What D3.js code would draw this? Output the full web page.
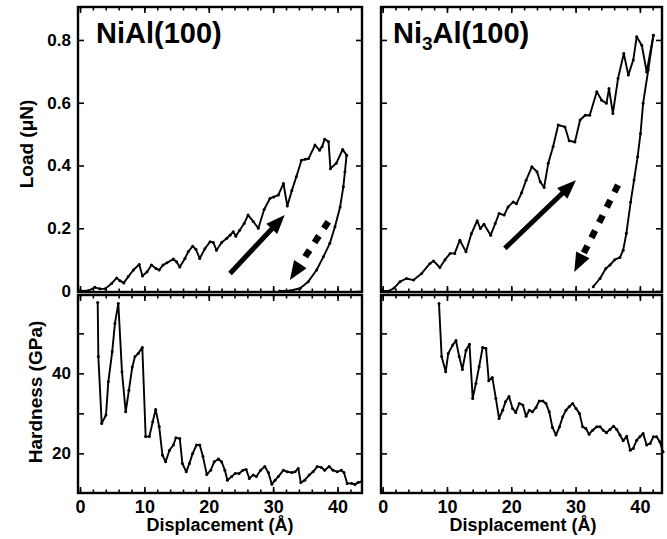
<!DOCTYPE html>
<html>
<head>
<meta charset="utf-8">
<script src="https://cdn.jsdelivr.net/npm/d3@7"></script>
<style>
  body { margin: 0; background: #fff; }
  text { font-family: "Liberation Sans", Arial, sans-serif; font-weight: bold; fill: #000; }
</style>
</head>
<body>
<script>
// Load-displacement curves, [displacement (Å), load (μN)]
const niAlLoading = [[0,0],[1.3,0.001],[2.3,0.012],[3.1,0.007],[3.9,0.007],[4.9,0.024],[5.7,0.042],[6.2,0.033],[6.8,0.026],[7.5,0.046],[8.3,0.067],[9.2,0.085],[9.7,0.048],[10.4,0.061],[11.1,0.083],[11.8,0.072],[12.3,0.067],[12.9,0.083],[13.5,0.09],[14.5,0.102],[15.0,0.093],[15.5,0.077],[16.3,0.104],[16.8,0.125],[17.5,0.143],[18.0,0.133],[18.6,0.104],[19.4,0.135],[20.2,0.157],[20.7,0.155],[21.2,0.13],[22.0,0.155],[22.8,0.168],[23.3,0.178],[23.8,0.189],[24.2,0.175],[24.8,0.194],[25.5,0.215],[26.1,0.242],[26.9,0.222],[27.7,0.2],[28.6,0.26],[29.5,0.295],[30.1,0.3],[30.8,0.306],[31.6,0.343],[32.2,0.271],[32.9,0.32],[33.6,0.364],[34.4,0.417],[35.0,0.42],[35.5,0.422],[36.5,0.465],[37.2,0.449],[37.6,0.46],[38.0,0.484],[38.6,0.476],[38.9,0.39],[39.8,0.407],[40.8,0.451],[41.4,0.433]];
const niAlUnloading = [[41.4,0.433],[41.15,0.38],[40.9,0.332],[40.4,0.268],[39.6,0.205],[38.8,0.152],[37.8,0.109],[36.75,0.067],[35.45,0.03],[34.2,0.009],[32.6,0.001],[31.0,0]];
const ni3AlLoading = [[0,0],[1.0,0],[1.8,0.01],[2.7,0.03],[3.7,0.04],[4.8,0.035],[6.06,0.056],[7.36,0.088],[7.9,0.096],[8.9,0.075],[9.7,0.1],[10.5,0.12],[11.2,0.12],[12.0,0.162],[12.96,0.125],[13.8,0.183],[14.7,0.224],[15.2,0.199],[15.75,0.213],[16.8,0.178],[17.5,0.215],[18.1,0.247],[18.9,0.242],[19.5,0.268],[20.3,0.284],[20.8,0.278],[21.6,0.313],[22.3,0.353],[23.2,0.396],[24.0,0.38],[24.5,0.348],[25.1,0.33],[25.75,0.407],[26.5,0.46],[27.3,0.529],[28.35,0.523],[29.0,0.479],[29.9,0.475],[30.7,0.545],[31.5,0.56],[32.2,0.56],[33.3,0.635],[34.06,0.608],[34.8,0.598],[35.2,0.645],[35.8,0.566],[36.6,0.677],[37.5,0.757],[38.2,0.688],[38.97,0.736],[39.5,0.81],[40.3,0.783],[41.06,0.698],[42.1,0.815]];
const ni3AlUnloading = [[42.1,0.815],[41.3,0.704],[40.5,0.598],[40.1,0.502],[39.65,0.428],[39.1,0.354],[38.57,0.284],[37.9,0.184],[37.4,0.13],[36.9,0.107],[36.1,0.1],[35.35,0.083],[34.7,0.072],[33.8,0.04],[32.75,0.014]];

// Hardness curves, [displacement (Å), hardness (GPa)]
const niAlHardness = [[2.75,57.7],[2.85,44.2],[3.37,27.5],[4.04,29.6],[4.4,37.9],[5.0,45.4],[5.43,52.5],[5.95,57.5],[6.52,40.4],[7.1,30.4],[7.6,35.8],[8.12,41.6],[8.54,44.2],[9.05,45.0],[9.68,46.5],[10.2,24.2],[10.77,24.2],[11.3,27.9],[11.75,31.0],[12.3,26.7],[12.8,19.6],[13.3,17.9],[13.9,20.8],[14.5,22.1],[14.9,23.9],[15.5,23.7],[15.9,17.5],[16.5,15.4],[17.0,17.5],[17.5,20.0],[18.1,22.1],[18.6,22.1],[19.1,19.2],[19.7,14.7],[20.3,15.8],[20.85,17.9],[21.5,18.6],[22.0,17.9],[22.5,15.8],[22.9,13.3],[23.55,14.2],[24.1,15.0],[24.7,15.0],[25.3,15.8],[25.8,16.0],[26.3,13.75],[26.9,14.6],[27.4,14.2],[28.05,15.8],[28.7,16.7],[29.25,15.2],[29.8,12.3],[30.3,13.3],[30.8,14.2],[31.6,15.8],[32.2,15.4],[32.9,15.2],[33.4,15.4],[33.9,16.25],[34.3,12.7],[34.9,13.3],[35.6,14.6],[36.2,15.4],[36.85,16.7],[37.5,16.5],[38.0,15.8],[38.7,16.7],[39.3,15.8],[39.95,15.4],[40.6,15.8],[41.0,15.2],[41.5,12.5],[42.2,12.5],[42.7,12.25],[43.2,12.75],[43.7,12.9]];
const ni3AlHardness = [[8.76,57.5],[9.17,44.2],[9.8,40.4],[10.2,45.0],[10.9,47.1],[11.4,48.2],[11.9,44.2],[12.4,41.0],[12.96,45.8],[13.5,47.3],[14.0,33.75],[14.5,37.5],[15.0,41.65],[15.55,46.5],[16.07,46.25],[16.5,38.15],[17.05,39.0],[17.6,33.75],[18.1,28.75],[18.66,30.8],[19.1,32.9],[19.65,34.2],[20.2,31.25],[20.7,30.25],[21.25,32.5],[21.8,32.1],[22.3,29.3],[22.8,30.8],[23.3,30.4],[23.85,31.5],[24.35,33.1],[24.9,33.1],[25.4,32.5],[25.9,30.4],[26.4,26.5],[26.95,24.6],[27.5,26.65],[28.0,29.15],[28.5,30.8],[29.0,31.65],[29.55,32.5],[30.06,31.25],[30.6,30.0],[31.1,26.65],[31.6,26.25],[32.1,24.8],[32.65,25.8],[33.3,26.65],[33.8,26.65],[34.3,25.8],[34.8,25.15],[35.35,26.0],[35.9,26.8],[36.4,26.0],[36.9,24.6],[37.4,23.15],[37.95,24.3],[38.5,20.8],[38.97,21.25],[39.5,23.3],[40.0,24.15],[40.5,25.0],[41.06,22.1],[41.6,22.5],[42.1,24.15],[42.6,24.15],[43.1,22.9],[43.6,20.4]];

// Arrows (loading / unloading direction), [from, to] in data units
const niAlSolidArrow = [[23.3,0.056],[31.8,0.242]];
const niAlDashedArrow = [[38.56,0.221],[32.6,0.035]];
const ni3AlSolidArrow = [[19.0,0.136],[30.06,0.353]];
const ni3AlDashedArrow = [[36.6,0.338],[29.8,0.061]];

const xMajorTicks = [0, 10, 20, 30, 40];
const xMinorTicks = d3.range(0, 44, 2);
const loadTicks = [0, 0.2, 0.4, 0.6, 0.8];
const loadTickLabels = ["0", "0.2", "0.4", "0.6", "0.8"];
const hardTicks = [20, 30, 40, 50];
const hardTickLabels = { 20: "20", 40: "40" };

const svg = d3.select("body").append("svg")
  .attr("width", 667)
  .attr("height", 539);

// scales
const xLeft = d3.scaleLinear().domain([-0.31, 43.8]).range([78, 362]);
const xRight = d3.scaleLinear().domain([-0.26, 43.44]).range([381, 662]);
const yLoad = d3.scaleLinear().domain([-0.003, 0.905]).range([292, 7]);
const yHard = d3.scaleLinear().domain([10.1, 59.6]).range([493, 295]);

function styleAxis(g, fontSize) {
  g.select(".domain").remove();
  g.selectAll("line").attr("stroke", "#000").attr("stroke-width", 1.6);
  g.selectAll("text").style("font-size", fontSize + "px").attr("fill", "#000");
}

function drawPanel(x, y, yTicks, yFormat, showY, showX) {
  const [x0, x1] = x.range();
  const [y1, y0] = y.range();
  // minor x ticks, bottom + top
  svg.append("g").attr("transform", `translate(0,${y1})`)
    .call(d3.axisBottom(x).tickValues(xMinorTicks).tickSize(-3.5).tickFormat(""))
    .call(g => styleAxis(g, 17));
  svg.append("g").attr("transform", `translate(0,${y0})`)
    .call(d3.axisTop(x).tickValues(xMinorTicks).tickSize(-3.5).tickFormat(""))
    .call(g => styleAxis(g, 17));
  // major x ticks
  svg.append("g").attr("transform", `translate(0,${y1})`)
    .call(d3.axisBottom(x).tickValues(xMajorTicks).tickSize(-6).tickPadding(7)
      .tickFormat(showX ? d3.format("d") : ""))
    .call(g => styleAxis(g, 18));
  svg.append("g").attr("transform", `translate(0,${y0})`)
    .call(d3.axisTop(x).tickValues(xMajorTicks).tickSize(-6).tickFormat(""))
    .call(g => styleAxis(g, 17));
  // y ticks, left + right
  svg.append("g").attr("transform", `translate(${x0},0)`)
    .call(d3.axisLeft(y).tickValues(yTicks).tickSize(-6).tickPadding(7)
      .tickFormat(showY ? yFormat : ""))
    .call(g => styleAxis(g, 17));
  svg.append("g").attr("transform", `translate(${x1},0)`)
    .call(d3.axisRight(y).tickValues(yTicks).tickSize(-6).tickFormat(""))
    .call(g => styleAxis(g, 17));
  // frame
  svg.append("rect")
    .attr("x", x0).attr("y", y0)
    .attr("width", x1 - x0).attr("height", y1 - y0)
    .attr("fill", "none").attr("stroke", "#000").attr("stroke-width", 2.4);
}

function drawCurve(data, x, y) {
  const line = d3.line().x(d => x(d[0])).y(d => y(d[1]));
  svg.append("path")
    .datum(data)
    .attr("d", line)
    .attr("fill", "none")
    .attr("stroke", "#000")
    .attr("stroke-width", 1.9)
    .attr("stroke-linejoin", "round");
  svg.append("g").selectAll("circle")
    .data(data)
    .enter()
    .append("circle")
    .attr("cx", d => x(d[0]))
    .attr("cy", d => y(d[1]))
    .attr("r", 1.5)
    .attr("fill", "#000");
}

function drawArrow(pts, x, y, dashed) {
  const p0 = [x(pts[0][0]), y(pts[0][1])];
  const p1 = [x(pts[1][0]), y(pts[1][1])];
  const dx = p1[0] - p0[0], dy = p1[1] - p0[1];
  const len = Math.hypot(dx, dy);
  const ux = dx / len, uy = dy / len;
  const headLen = 19, headW = 15;
  const bx = p1[0] - ux * headLen, by = p1[1] - uy * headLen;
  svg.append("line")
    .attr("x1", p0[0]).attr("y1", p0[1])
    .attr("x2", bx + ux * 2).attr("y2", by + uy * 2)
    .attr("stroke", "#000")
    .attr("stroke-width", dashed ? 6.5 : 5)
    .attr("stroke-dasharray", dashed ? "8,9" : null);
  svg.append("path")
    .attr("d", `M${p1[0]},${p1[1]}L${bx - uy * headW / 2},${by + ux * headW / 2}L${bx + uy * headW / 2},${by - ux * headW / 2}Z`)
    .attr("fill", "#000");
}

const loadFmt = d => loadTickLabels[loadTicks.indexOf(d)];
const hardFmt = d => hardTickLabels[d] || "";

drawPanel(xLeft, yLoad, loadTicks, loadFmt, true, false);
drawPanel(xRight, yLoad, loadTicks, loadFmt, false, false);
drawPanel(xLeft, yHard, hardTicks, hardFmt, true, true);
drawPanel(xRight, yHard, hardTicks, hardFmt, false, true);

drawCurve(niAlLoading, xLeft, yLoad);
drawCurve(niAlUnloading, xLeft, yLoad);
drawCurve(ni3AlLoading, xRight, yLoad);
drawCurve(ni3AlUnloading, xRight, yLoad);
drawCurve(niAlHardness, xLeft, yHard);
drawCurve(ni3AlHardness, xRight, yHard);

drawArrow(niAlSolidArrow, xLeft, yLoad, false);
drawArrow(niAlDashedArrow, xLeft, yLoad, true);
drawArrow(ni3AlSolidArrow, xRight, yLoad, false);
drawArrow(ni3AlDashedArrow, xRight, yLoad, true);

// panel titles
svg.append("text")
  .attr("x", 96).attr("y", 43)
  .style("font-size", "29px")
  .text("NiAl(100)");

const t2 = svg.append("text")
  .attr("x", 393).attr("y", 43)
  .style("font-size", "29px");
t2.append("tspan").text("Ni");
t2.append("tspan").attr("dy", 7).style("font-size", "19px").text("3");
t2.append("tspan").attr("dy", -7).text("Al(100)");

// axis titles
svg.append("text")
  .attr("transform", "translate(33,144) rotate(-90)")
  .attr("text-anchor", "middle")
  .style("font-size", "19px")
  .text("Load (μN)");

svg.append("text")
  .attr("transform", "translate(42,392) rotate(-90)")
  .attr("text-anchor", "middle")
  .style("font-size", "19px")
  .text("Hardness (GPa)");

svg.append("text")
  .attr("x", 220).attr("y", 531)
  .attr("text-anchor", "middle")
  .style("font-size", "18px")
  .text("Displacement (Å)");

svg.append("text")
  .attr("x", 523).attr("y", 531)
  .attr("text-anchor", "middle")
  .style("font-size", "18px")
  .text("Displacement (Å)");
</script>
</body>
</html>
